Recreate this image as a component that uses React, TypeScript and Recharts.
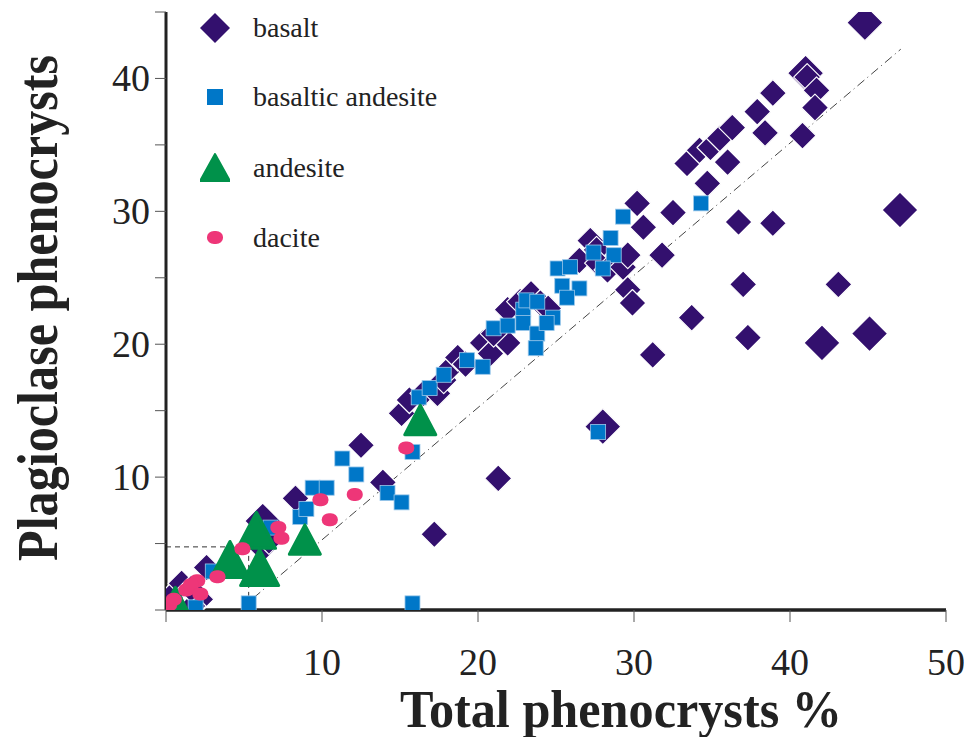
import React from "react";
import { ScatterChart, Scatter, XAxis, YAxis, ReferenceLine, Label } from "recharts";

// [total phenocrysts %, plagioclase phenocrysts]
const basalt: number[][] = [
  [0.3, 1.0], [1.0, 2.0], [2.2, 0.8], [1.7, 0.3], [2.6, 3.2], [1.6, 1.6],
  [6.2, 4.6], [6.6, 5.2], [8.3, 8.4], [12.5, 12.4], [13.9, 9.6], [17.2, 5.7], [21.3, 9.9],
  [15.1, 14.8], [15.6, 15.8], [16.5, 16.3], [17.4, 16.3], [17.8, 17.3], [18.3, 18.3],
  [18.7, 19.0], [19.2, 18.5], [20.3, 20.1], [20.8, 19.3], [21.9, 20.1], [21.0, 20.8],
  [21.9, 22.6], [22.7, 23.2], [23.4, 23.8], [24.0, 23.1], [24.5, 22.7], [26.5, 26.3],
  [27.2, 27.8], [27.6, 27.1], [27.7, 26.1], [28.3, 25.6], [29.3, 25.8], [29.6, 26.7],
  [29.6, 24.1], [29.9, 23.1], [30.2, 30.6], [30.6, 28.8], [31.8, 26.7], [32.5, 29.9],
  [31.2, 19.2], [33.7, 22.0], [33.4, 33.6], [34.2, 34.6], [34.7, 32.1], [34.9, 34.8],
  [35.5, 35.5], [36.0, 33.7], [36.3, 36.3], [36.7, 29.2], [37.0, 24.5], [37.3, 20.5],
  [37.9, 37.5], [38.4, 35.9], [38.9, 38.9], [38.9, 29.1], [40.8, 35.7], [41.1, 40.1],
  [41.7, 39.1], [41.6, 37.8], [43.1, 24.5],
];
const basaltLarge: number[][] = [
  [44.8, 44.2], [47.05, 30.1], [45.1, 20.8], [42.05, 20.1], [28.0, 13.8], [6.2, 6.7], [41.0, 40.4],
];
const basalticAndesite: number[][] = [
  [1.9, 0.2], [3.0, 2.9], [5.3, 0.5], [6.7, 6.2], [8.6, 7.0], [9.0, 7.6], [9.4, 9.2],
  [10.3, 9.2], [11.3, 11.4], [12.2, 10.2], [14.2, 8.8], [15.1, 8.1], [15.8, 11.9], [15.8, 0.5],
  [16.2, 16.0], [16.9, 16.7], [17.8, 17.7], [19.3, 18.8], [20.3, 18.3], [21.0, 21.2],
  [21.9, 21.4], [22.9, 22.6], [23.1, 23.3], [23.8, 23.2], [22.9, 21.6], [23.8, 20.8],
  [24.8, 22.0], [23.7, 19.7], [24.4, 21.6], [25.1, 25.7], [25.9, 25.8], [25.4, 24.4],
  [26.5, 24.2], [25.7, 23.5], [27.4, 26.9], [28.5, 28.0], [28.7, 26.7], [28.0, 25.7],
  [29.3, 29.6], [27.7, 13.4], [34.3, 30.6],
];
const andesite: number[][] = [[0.6, 0.6], [8.9, 5.3], [16.3, 14.3]];
const andesiteLarge: number[][] = [[4.1, 3.8], [5.8, 6.0], [6.0, 3.2]];
const dacite: number[][] = [
  [0.2, 0.4], [0.5, 0.8], [1.3, 1.5], [2.0, 2.2], [1.6, 1.9], [2.2, 1.2], [3.3, 2.5],
  [4.9, 4.6], [7.2, 6.2], [7.4, 5.4], [9.9, 8.3], [10.5, 6.8], [12.1, 8.7], [15.4, 12.2],
];

const xTicks = [0, 10, 20, 30, 40, 50];
const yTicks = [0, 5, 10, 15, 20, 25, 30, 35, 40, 45];
const yLabelled = [10, 20, 30, 40];
const guideH = [[0, 4.75], [5.3, 4.75]];
const guideV = [[5.3, 4.75], [5.3, 0]];
const diagonal = [[5.6, 0.9], [47.1, 42.2]];

const toPts = (arr: number[][]) => arr.map(([x, y]) => ({ x, y }));
const seg = (arr: number[][]) => arr.map(([x, y]) => ({ x, y }));

const PURPLE = "#33106e";
const BLUE = "#0077c8";
const GREEN = "#00914a";
const PINK = "#ee3678";
const SERIF = "'Liberation Serif', 'Times New Roman', serif";

const diamond = (r: number) => (p: any) => (
  <polygon
    points={`${p.cx},${p.cy - r} ${p.cx + r},${p.cy} ${p.cx},${p.cy + r} ${p.cx - r},${p.cy}`}
    fill={PURPLE}
    stroke="#fff"
    strokeWidth={1.2}
    strokeLinejoin="round"
  />
);
const square = (p: any) => (
  <rect x={p.cx - 7.5} y={p.cy - 7.5} width={15} height={15} fill={BLUE} stroke="#9cc8ea" strokeWidth={0.8} />
);
const triangle = (w: number) => (p: any) => {
  const h = w * 0.95;
  return (
    <polygon
      points={`${p.cx},${p.cy - h / 2} ${p.cx + w / 2},${p.cy + h / 2} ${p.cx - w / 2},${p.cy + h / 2}`}
      fill={GREEN}
      stroke={GREEN}
      strokeWidth={3}
      strokeLinejoin="round"
    />
  );
};
const blob = (p: any) => (
  <rect x={p.cx - 8} y={p.cy - 6.5} width={16} height={13} rx={7} ry={6} fill={PINK} />
);

const XTick = (props: any) => {
  const v = props.payload.value;
  if (v === 0) return null;
  return (
    <text x={props.x} y={662} dy={13} textAnchor="middle" fontSize={38} fontFamily={SERIF} fill="#222">
      {v}
    </text>
  );
};
const YTick = (props: any) => {
  const v = props.payload.value;
  if (!yLabelled.includes(v)) return null;
  return (
    <text x={150} y={props.y} dy={13} textAnchor="end" fontSize={38} fontFamily={SERIF} fill="#222">
      {v}
    </text>
  );
};

const legendItems = [
  { name: "basalt", icon: <polygon points="15,0 30,15 15,30 0,15" fill={PURPLE} /> },
  { name: "basaltic andesite", icon: <rect x={7} y={7} width={16} height={16} fill={BLUE} /> },
  { name: "andesite", icon: <polygon points="15,1 30,28 0,28" fill={GREEN} stroke={GREEN} strokeWidth={2} strokeLinejoin="round" /> },
  { name: "dacite", icon: <rect x={7} y={8} width={16} height={13} rx={7} ry={6} fill={PINK} /> },
];
const legendY = [28, 97, 168, 238];

export default function App() {
  return (
    <div style={{ position: "absolute", left: 0, top: 0, width: 964, height: 737, background: "#fff" }}>
      <ScatterChart width={964} height={737} margin={{ top: 12, right: 18, left: 0, bottom: 0 }}>
        <XAxis
          type="number"
          dataKey="x"
          domain={[0, 50]}
          ticks={xTicks}
          interval={0}
          height={127}
          tickSize={12}
          tick={<XTick />}
          axisLine={{ stroke: "#222", strokeWidth: 3.5 }}
          tickLine={{ stroke: "#555", strokeWidth: 1 }}
          allowDataOverflow
        >
          <Label
            content={() => (
              <text
                x={621}
                y={727}
                textAnchor="middle"
                fontSize={52}
                fontWeight="bold"
                fontFamily={SERIF}
                fill="#222"
                textLength={442}
                lengthAdjust="spacingAndGlyphs"
              >
                Total phenocrysts %
              </text>
            )}
          />
        </XAxis>
        <YAxis
          type="number"
          dataKey="y"
          domain={[0, 45]}
          ticks={yTicks}
          interval={0}
          width={166}
          tickSize={11}
          tick={<YTick />}
          axisLine={{ stroke: "#222", strokeWidth: 3 }}
          tickLine={{ stroke: "#555", strokeWidth: 1 }}
          allowDataOverflow
        >
          <Label
            content={() => (
              <text
                transform="translate(57,308) rotate(-90)"
                textAnchor="middle"
                fontSize={56}
                fontWeight="bold"
                fontFamily={SERIF}
                fill="#222"
                textLength={506}
                lengthAdjust="spacingAndGlyphs"
              >
                Plagioclase phenocrysts
              </text>
            )}
          />
        </YAxis>
        <ReferenceLine segment={seg(guideH)} stroke="#333" strokeDasharray="5 4" strokeWidth={1} ifOverflow="visible" />
        <ReferenceLine segment={seg(guideV)} stroke="#333" strokeDasharray="5 4" strokeWidth={1} ifOverflow="visible" />
        <ReferenceLine segment={seg(diagonal)} stroke="#444" strokeDasharray="9 4 1 4" strokeWidth={1} ifOverflow="visible" />
        <Scatter name="basalt large" data={toPts(basaltLarge)} shape={diamond(18)} isAnimationActive={false} />
        <Scatter name="basalt" data={toPts(basalt)} shape={diamond(13.5)} isAnimationActive={false} />
        <Scatter name="basaltic andesite" data={toPts(basalticAndesite)} shape={square} isAnimationActive={false} />
        <Scatter name="andesite large" data={toPts(andesiteLarge)} shape={triangle(38)} isAnimationActive={false} />
        <Scatter name="andesite" data={toPts(andesite)} shape={triangle(31)} isAnimationActive={false} />
        <Scatter name="dacite" data={toPts(dacite)} shape={blob} isAnimationActive={false} />
      </ScatterChart>
      {legendItems.map((it, i) => (
        <div
          key={it.name}
          style={{
            position: "absolute",
            left: 200,
            top: legendY[i] - 15,
            height: 30,
            display: "flex",
            alignItems: "center",
            fontFamily: SERIF,
            fontSize: 28,
            color: "#222",
            whiteSpace: "nowrap",
          }}
        >
          <svg width={30} height={30} style={{ marginRight: 23 }}>
            {it.icon}
          </svg>
          <span>{it.name}</span>
        </div>
      ))}
    </div>
  );
}
